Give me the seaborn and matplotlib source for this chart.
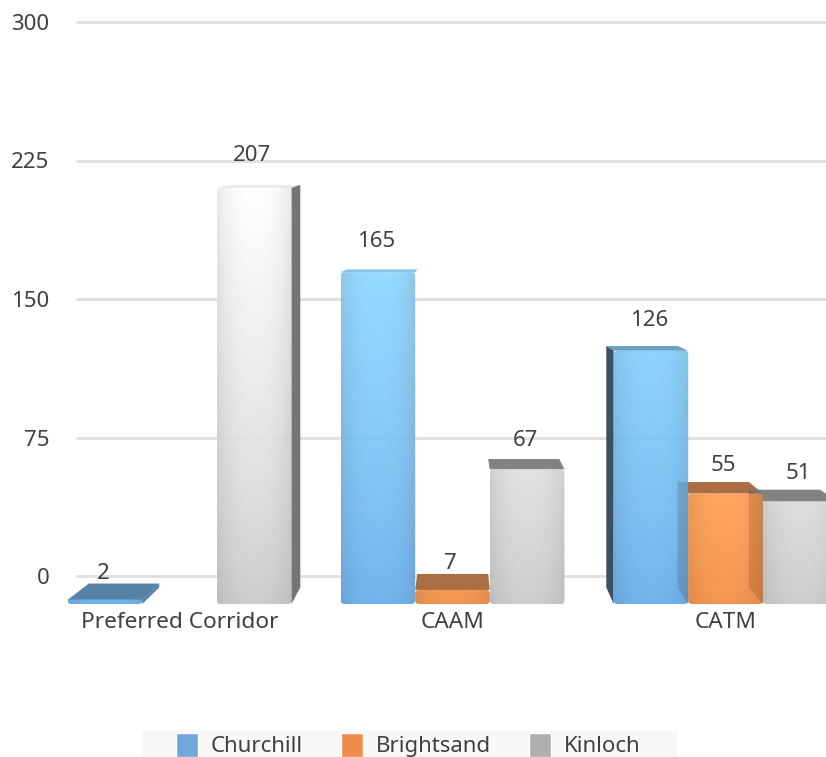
import numpy as np
import pandas as pd
import matplotlib
matplotlib.use("Agg")
import matplotlib.pyplot as plt
from matplotlib.colors import to_rgb
from matplotlib.patches import Polygon, FancyBboxPatch, Rectangle
from matplotlib.transforms import IdentityTransform
import seaborn as sns

categories = ["Preferred Corridor", "CAAM", "CATM"]
series = ["Churchill", "Brightsand", "Kinloch"]
churchill = [2, 165, 126]
brightsand = [None, 7, 55]
kinloch = [207, 67, 51]
y_ticks = [0, 75, 150, 225, 300]
legend_colors = ["#6fa8dc", "#f08c4a", "#afafaf"]

# front-face shading (low end, high end), top face and side tones per series
front_low = {"Churchill": "#68aeec", "Brightsand": "#f28e46", "Kinloch": "#cacaca"}
front_high = {"Churchill": "#90d8ff", "Brightsand": "#ffa056", "Kinloch": "#ffffff"}
top_dark = {"Churchill": "#5f8db5", "Brightsand": "#b9774a", "Kinloch": "#8e8e8e"}
side_tone = {"Churchill": "#445768", "Brightsand": "#c57a45", "Kinloch": "#808080"}
shade_span = {"Churchill": 165, "Brightsand": 55, "Kinloch": 207}

W, H = 826, 757
DPI = 100
TEXT = "#404040"

sns.set_theme(style="white")
plt.rcParams["font.family"] = ["Noto Sans", "DejaVu Sans"]

df = pd.DataFrame({"category": categories, "Churchill": churchill,
                   "Brightsand": brightsand, "Kinloch": kinloch})
long = df.melt("category", var_name="series", value_name="value").dropna()

fig = plt.figure(figsize=(W / DPI, H / DPI), dpi=DPI, facecolor="white")


def px_axes(x0, ytop, x1, ybot, **kw):
    return fig.add_axes([x0 / W, 1 - ybot / H, (x1 - x0) / W, (ybot - ytop) / H], **kw)


# value axis with grid (the gridlines sit on the chart's back wall)
grid_ax = px_axes(77, 22, 826, 576)
grid_ax.set_ylim(0, 300)
grid_ax.set_xlim(0, 1)
grid_ax.set_yticks(y_ticks)
grid_ax.set_xticks([])
grid_ax.grid(axis="y", color="#e0e0e0", lw=2.1)
grid_ax.set_axisbelow(True)
grid_ax.tick_params(axis="y", length=0, pad=20, labelsize=16, labelcolor=TEXT)
sns.despine(ax=grid_ax, left=True, bottom=True)
for line in grid_ax.get_ygridlines():
    line.set_clip_on(False)

# bars live in the nearer plane of the 3-D box
ax = px_axes(0, 1, 826, 604)
ax.set_zorder(2)
ax.patch.set_alpha(0)
sns.barplot(data=long, x="category", y="value", hue="series", order=categories,
            hue_order=series, palette=legend_colors, width=0.82, gap=0,
            saturation=1, ax=ax, legend=True)
XLIM = ((0 - 179.5) / 273, (826 - 179.5) / 273)
YLIM = (0, 300)
ax.set_xlim(*XLIM)
ax.set_ylim(*YLIM)
ax.set_xlabel("")
ax.set_ylabel("")
ax.set_yticks([])
ax.tick_params(axis="x", length=0, pad=5.5, labelsize=16.3, labelcolor=TEXT)
sns.despine(ax=ax, left=True, bottom=True)

# perspective of the back face
VANISH_X = 1.0


def back_x(x):
    shrink = 0.055 if x < VANISH_X else 0.045
    return x + shrink * (VANISH_X - x)


def back_y(y):
    return max(8.26 + 0.953 * y, y + 1.5)


def shaded(name, y1):
    n = 64
    u = np.linspace(0, 1, n)[None, :, None]
    v = np.linspace(1, 0, n)[:, None, None] * y1   # data height per row
    t = np.clip(v / shade_span[name], 0, 1) ** 0.8
    low, high = np.array(to_rgb(front_low[name])), np.array(to_rgb(front_high[name]))
    rgb = low + (high - low) * t
    rgb = rgb * (1 - 0.09 * np.abs(2 * u - 1) ** 2.5)
    return np.clip(rgb, 0, 1)


bars = []
for name, cont in zip(series, ax.containers):
    for p in cont.patches:
        if np.isfinite(p.get_height()) and p.get_height() > 0:
            bars.append((p.get_x(), name, p))
bars.sort(key=lambda b: b[0])

MIN_SIDE = 0.012  # skip slivers narrower than a few pixels

for order, (_, name, p) in enumerate(bars):
    x0, x1, y1 = p.get_x(), p.get_x() + p.get_width(), p.get_height()
    bx0, bx1, by1, by0 = back_x(x0), back_x(x1), back_y(y1), back_y(0)
    t = np.clip((y1 - 100) / 60, 0, 1)
    top = np.array(to_rgb(top_dark[name])) * (1 - t) + np.array(to_rgb(front_high[name])) * t
    side = top if y1 < 10 else side_tone[name]

    faces = [([(x0, y1), (x1, y1), (bx1, by1), (bx0, by1)], top)]
    if x0 - bx0 > MIN_SIDE:
        faces.append(([(x0, 0), (x0, y1), (bx0, by1), (bx0, by0)], side))
    if bx1 - x1 > MIN_SIDE:
        faces.append(([(x1, 0), (x1, y1), (bx1, by1), (bx1, by0)], side))
    for pts, col in faces:
        ax.add_patch(Polygon(pts, closed=True, fc=col, ec="none", zorder=3, clip_on=False))
        ax.add_patch(Polygon(pts, closed=True, fc="black", ec="none", alpha=0.08,
                             zorder=6 + order * 0.01, clip_on=False))

    # rounded front face with a shaded image
    (dx0, dy0), (dx1, dy1) = ax.transData.transform([(x0, 0), (x1, y1)])
    r = 4
    clip = FancyBboxPatch((dx0 + r, dy0 + r), dx1 - dx0 - 2 * r, max(dy1 - dy0 - 2 * r, 0.5),
                          boxstyle=f"round,pad={r},rounding_size={r}",
                          transform=IdentityTransform(), fc="none", ec="none")
    ax.add_patch(clip)
    p.set_alpha(0)
    im = ax.imshow(shaded(name, y1), extent=(x0, x1, 0, y1), origin="upper",
                   aspect="auto", zorder=5, alpha=0.94, interpolation="bilinear")
    im.set_clip_path(clip)

ax.set_xlim(*XLIM)
ax.set_ylim(*YLIM)

# value labels follow the projected height of each bar
for _, name, p in bars:
    ax.text(p.get_x() + p.get_width() / 2 - 0.007, 13.2 + 1.014 * p.get_height(),
            f"{int(p.get_height())}", ha="center", va="center", fontsize=16,
            color=TEXT, zorder=8)

# legend strip
fig.patches.append(Rectangle((142 / W, 0), (678 - 142) / W, 26 / H, transform=fig.transFigure,
                             fc="#f8f8f8", ec="none", zorder=-1))
sns.move_legend(ax, "lower left", bbox_to_anchor=(176 / W, 0), bbox_transform=fig.transFigure,
                ncol=3, title=None, frameon=False, fontsize=16, borderaxespad=0,
                handlelength=0.99, handleheight=1.285, handletextpad=0.585,
                columnspacing=1.7, borderpad=0, labelcolor=TEXT)

fig.savefig("out.png", dpi=DPI)
